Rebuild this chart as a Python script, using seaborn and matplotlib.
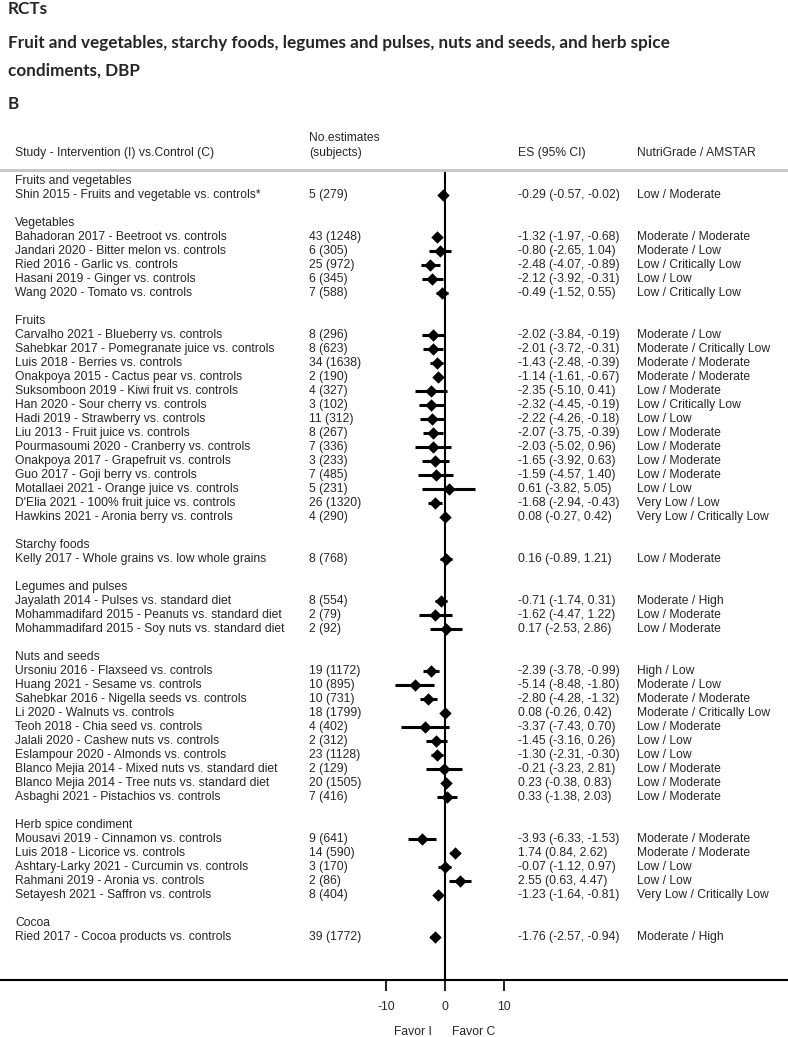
import pandas as pd
import matplotlib.pyplot as plt
import matplotlib.transforms as mtransforms
import seaborn as sns

# Forest plot data (RCTs, DBP)
groups = ['Fruits and vegetables', 'Vegetables', 'Fruits', 'Starchy foods',
          'Legumes and pulses', 'Nuts and seeds', 'Herb spice condiment', 'Cocoa']
group_sizes = [1, 5, 14, 1, 3, 10, 5, 1]

studies = [
    'Shin 2015 - Fruits and vegetable vs. controls*',
    'Bahadoran 2017 - Beetroot vs. controls',
    'Jandari 2020 - Bitter melon vs. controls',
    'Ried 2016 - Garlic vs. controls',
    'Hasani 2019 - Ginger vs. controls',
    'Wang 2020 - Tomato vs. controls',
    'Carvalho 2021 - Blueberry vs. controls',
    'Sahebkar 2017 - Pomegranate juice vs. controls',
    'Luis 2018 - Berries vs. controls',
    'Onakpoya 2015 - Cactus pear vs. controls',
    'Suksomboon 2019 - Kiwi fruit vs. controls',
    'Han 2020 - Sour cherry vs. controls',
    'Hadi 2019 - Strawberry vs. controls',
    'Liu 2013 - Fruit juice vs. controls',
    'Pourmasoumi 2020 - Cranberry vs. controls',
    'Onakpoya 2017 - Grapefruit vs. controls',
    'Guo 2017 - Goji berry vs. controls',
    'Motallaei 2021 - Orange juice vs. controls',
    "D'Elia 2021 - 100% fruit juice vs. controls",
    'Hawkins 2021 - Aronia berry vs. controls',
    'Kelly 2017 - Whole grains vs. low whole grains',
    'Jayalath 2014 - Pulses vs. standard diet',
    'Mohammadifard 2015 - Peanuts vs. standard diet',
    'Mohammadifard 2015 - Soy nuts vs. standard diet',
    'Ursoniu 2016 - Flaxseed vs. controls',
    'Huang 2021 - Sesame vs. controls',
    'Sahebkar 2016 - Nigella seeds vs. controls',
    'Li 2020 - Walnuts vs. controls',
    'Teoh 2018 - Chia seed vs. controls',
    'Jalali 2020 - Cashew nuts vs. controls',
    'Eslampour 2020 - Almonds vs. controls',
    'Blanco Mejia 2014 - Mixed nuts vs. standard diet',
    'Blanco Mejia 2014 - Tree nuts vs. standard diet',
    'Asbaghi 2021 - Pistachios vs. controls',
    'Mousavi 2019 - Cinnamon vs. controls',
    'Luis 2018 - Licorice vs. controls',
    'Ashtary-Larky 2021 - Curcumin vs. controls',
    'Rahmani 2019 - Aronia vs. controls',
    'Setayesh 2021 - Saffron vs. controls',
    'Ried 2017 - Cocoa products vs. controls',
]

n_estimates = [5, 43, 6, 25, 6, 7, 8, 8, 34, 2, 4, 3, 11, 8, 7, 3, 7, 5, 26, 4,
               8, 8, 2, 2, 19, 10, 10, 18, 4, 2, 23, 2, 20, 7, 9, 14, 3, 2, 8, 39]
n_subjects = [279, 1248, 305, 972, 345, 588, 296, 623, 1638, 190, 327, 102, 312, 267,
              336, 233, 485, 231, 1320, 290, 768, 554, 79, 92, 1172, 895, 731, 1799,
              402, 312, 1128, 129, 1505, 416, 641, 590, 170, 86, 404, 1772]

es = [-0.29, -1.32, -0.80, -2.48, -2.12, -0.49, -2.02, -2.01, -1.43, -1.14, -2.35,
      -2.32, -2.22, -2.07, -2.03, -1.65, -1.59, 0.61, -1.68, 0.08, 0.16, -0.71, -1.62,
      0.17, -2.39, -5.14, -2.80, 0.08, -3.37, -1.45, -1.30, -0.21, 0.23, 0.33, -3.93,
      1.74, -0.07, 2.55, -1.23, -1.76]
ci_low = [-0.57, -1.97, -2.65, -4.07, -3.92, -1.52, -3.84, -3.72, -2.48, -1.61, -5.10,
          -4.45, -4.26, -3.75, -5.02, -3.92, -4.57, -3.82, -2.94, -0.27, -0.89, -1.74,
          -4.47, -2.53, -3.78, -8.48, -4.28, -0.26, -7.43, -3.16, -2.31, -3.23, -0.38,
          -1.38, -6.33, 0.84, -1.12, 0.63, -1.64, -2.57]
ci_high = [-0.02, -0.68, 1.04, -0.89, -0.31, 0.55, -0.19, -0.31, -0.39, -0.67, 0.41,
           -0.19, -0.18, -0.39, 0.96, 0.63, 1.40, 5.05, -0.43, 0.42, 1.21, 0.31, 1.22,
           2.86, -0.99, -1.80, -1.32, 0.42, 0.70, 0.26, -0.30, 2.81, 0.83, 2.03, -1.53,
           2.62, 0.97, 4.47, -0.81, -0.94]

quality = [
    'Low / Moderate', 'Moderate / Moderate', 'Moderate / Low', 'Low / Critically Low',
    'Low / Low', 'Low / Critically Low', 'Moderate / Low', 'Moderate / Critically Low',
    'Moderate / Moderate', 'Moderate / Moderate', 'Low / Moderate', 'Low / Critically Low',
    'Low / Low', 'Low / Moderate', 'Low / Moderate', 'Low / Moderate', 'Low / Moderate',
    'Low / Low', 'Very Low / Low', 'Very Low / Critically Low', 'Low / Moderate',
    'Moderate / High', 'Low / Moderate', 'Low / Moderate', 'High / Low', 'Moderate / Low',
    'Moderate / Moderate', 'Moderate / Critically Low', 'Low / Moderate', 'Low / Low',
    'Low / Low', 'Low / Moderate', 'Low / Moderate', 'Low / Moderate', 'Moderate / Moderate',
    'Moderate / Moderate', 'Low / Low', 'Low / Low', 'Very Low / Critically Low',
    'Moderate / High',
]

# row layout: group header, its studies, then a blank line
rows = []
header_rows = []
pos = 0
for n in group_sizes:
    header_rows.append(pos)
    pos += 1
    for _ in range(n):
        rows.append(pos)
        pos += 1
    pos += 1

df = pd.DataFrame({'study': studies, 'es': es, 'lo': ci_low, 'hi': ci_high,
                   'row': rows, 'quality': quality})

sns.set_style('white')
plt.rcParams['font.family'] = ['Liberation Sans', 'DejaVu Sans']
plt.rcParams['axes.unicode_minus'] = False

W, H = 788, 1037
fig = plt.figure(figsize=(W / 100, H / 100), dpi=100)
ax = fig.add_axes([0, (H - 980) / H, 1, 810 / H])

ax.axvline(0, color='black', lw=1.5, zorder=1)
ax.hlines(df['row'], df['lo'], df['hi'], color='black', lw=2.2, zorder=2)
sns.scatterplot(data=df, x='es', y='row', marker='D', color='black', s=40,
                linewidth=0, ax=ax, zorder=3)

ax.set_xlim(-445 / 5.9, 343 / 5.9)
ax.set_ylim((980 - 181) / 14, (170 - 181) / 14)
ax.set_xlabel('')
ax.set_ylabel('')
ax.set_yticks([])
ax.set_xticks([-10, 0, 10])
ax.tick_params(axis='x', direction='out', length=8, width=1.5, pad=7,
               labelsize=8.7, bottom=True)
for side in ['left', 'right']:
    ax.spines[side].set_visible(False)
ax.spines['top'].set_color('#c4c4c4')
ax.spines['top'].set_linewidth(2)
ax.spines['bottom'].set_color('black')
ax.spines['bottom'].set_linewidth(1.5)

fs = 8.7
trans = mtransforms.blended_transform_factory(fig.transFigure, ax.transData)
col_x = [15 / W, 309 / W, 518 / W, 637 / W]

for g, r in zip(groups, header_rows):
    ax.text(col_x[0], r, g, transform=trans, va='center', fontsize=fs)

for i, row in df.iterrows():
    ax.text(col_x[0], row['row'], row['study'], transform=trans, va='center', fontsize=fs)
    ax.text(col_x[1], row['row'], f'{n_estimates[i]} ({n_subjects[i]})',
            transform=trans, va='center', fontsize=fs)
    ax.text(col_x[2], row['row'], f"{row['es']:.2f} ({row['lo']:.2f}, {row['hi']:.2f})",
            transform=trans, va='center', fontsize=fs)
    ax.text(col_x[3], row['row'], row['quality'], transform=trans, va='center', fontsize=fs)

# column headers
fig.text(col_x[0], 1 - 153 / H, 'Study - Intervention (I) vs.Control (C)', va='center', fontsize=fs)
fig.text(col_x[1], 1 - 138 / H, 'No.estimates', va='center', fontsize=fs)
fig.text(col_x[1], 1 - 153 / H, '(subjects)', va='center', fontsize=fs)
fig.text(col_x[2], 1 - 153 / H, 'ES (95% CI)', va='center', fontsize=fs)
fig.text(col_x[3], 1 - 153 / H, 'NutriGrade / AMSTAR', va='center', fontsize=fs)

# favour labels under the axis
tb = mtransforms.blended_transform_factory(ax.transData, ax.transAxes)
ax.text(-2.2, -52 / 810, 'Favor I', transform=tb, ha='right', va='center', fontsize=fs)
ax.text(1.2, -52 / 810, 'Favor C', transform=tb, ha='left', va='center', fontsize=fs)

# titles
tfont = dict(family=['Lato', 'DejaVu Sans'], fontweight='bold', fontsize=12.3)
fig.text(8 / W, 1 - 9 / H, 'RCTs', va='center', **tfont)
fig.text(8 / W, 1 - 43 / H, 'Fruit and vegetables, starchy foods, legumes and pulses, nuts and seeds, and herb spice',
         va='center', **tfont)
fig.text(8 / W, 1 - 71 / H, 'condiments, DBP', va='center', **tfont)
fig.text(8 / W, 1 - 104 / H, 'B', va='center', **tfont)

fig.savefig('out.png', dpi=100)
